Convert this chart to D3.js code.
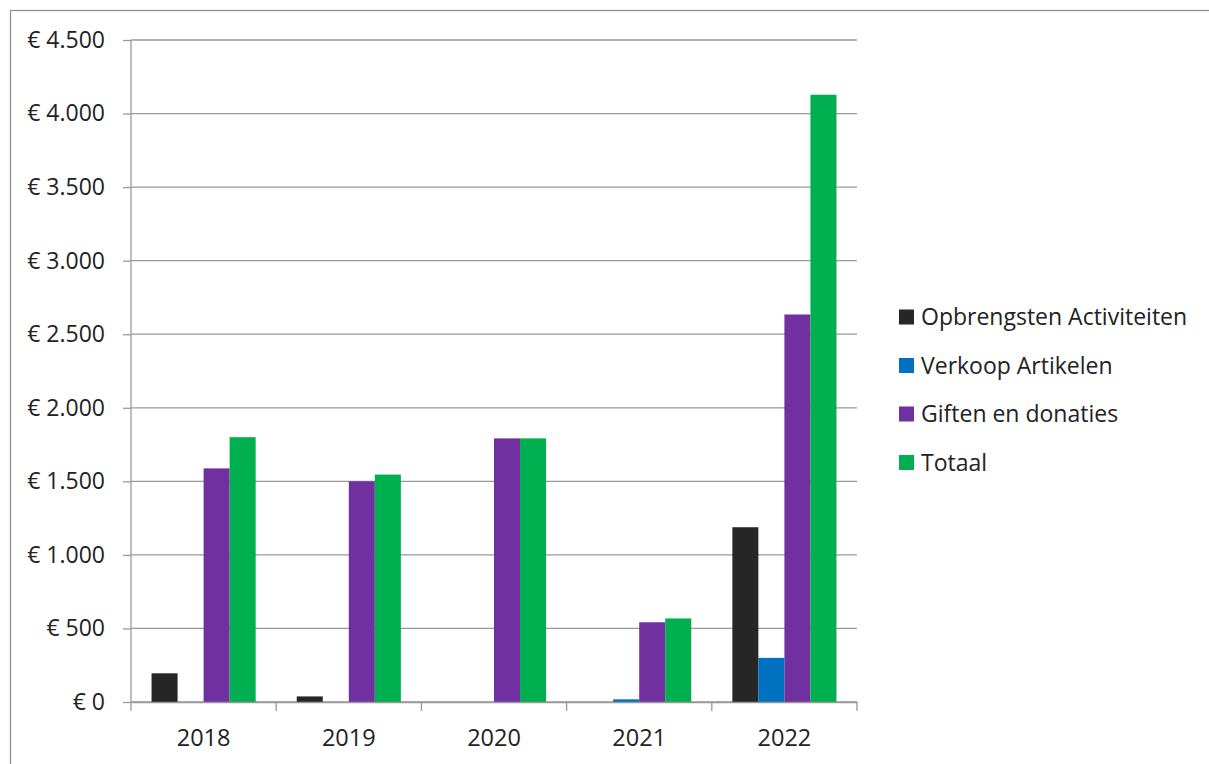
<!DOCTYPE html>
<html>
<head>
<meta charset="utf-8">
<script src="https://cdn.jsdelivr.net/npm/d3@7"></script>
<style>
  body { margin: 0; background: #fff; }
  text { font-family: 'Open Sans', sans-serif; fill: #222; }
</style>
</head>
<body>
<div id="grafiek"></div>
<script>
// Gegevens
const jaren = ['2018', '2019', '2020', '2021', '2022'];
const reeksen = ['Opbrengsten Activiteiten', 'Verkoop Artikelen', 'Giften en donaties', 'Totaal'];
const activiteiten = [195, 38, 0, 0, 1188];
const artikelen = [0, 0, 0, 18, 300];
const giften = [1588, 1500, 1792, 542, 2634];
const totaal = [1800, 1546, 1792, 568, 4128];
const yTicks = [0, 500, 1000, 1500, 2000, 2500, 3000, 3500, 4000, 4500];
const kleuren = ['#262626', '#0070c0', '#7030a0', '#00b050'];

const w = 1209;
const h = 764;
const links = 131, rechts = 857, boven = 40, onder = 702;

const waarden = [activiteiten, artikelen, giften, totaal];

const svg = d3.select('#grafiek')
  .append('svg')
  .attr('width', w)
  .attr('height', h);

// Kader
svg.append('rect')
  .attr('x', 10.5).attr('y', 10.5)
  .attr('width', w + 20).attr('height', h + 20)
  .attr('fill', 'none')
  .attr('stroke', '#8c8c8c')
  .attr('stroke-width', 1.2);

// Schalen
const x0 = d3.scaleBand().domain(jaren).range([links, rechts]);
const bw = x0.bandwidth();
const gat = bw * 0.283;
const x1 = d3.scaleBand().domain(reeksen).range([gat / 2, bw - gat / 2]);
const y = d3.scaleLinear().domain([0, 4500]).range([onder, boven]);

// Rasterlijnen + Y-as
const yAs = svg.append('g')
  .attr('transform', 'translate(' + links + ',0)')
  .call(d3.axisLeft(y)
    .tickValues(yTicks)
    .tickSize(8)
    .tickPadding(18)
    .tickFormat(d => '€ ' + d3.format(',')(d).replace(/,/g, '.')));
yAs.select('.domain').remove();
yAs.selectAll('line').attr('stroke', '#999').attr('stroke-width', 1.3);
yAs.selectAll('text').style('font-size', '23px').attr('fill', '#222');

svg.append('g')
  .selectAll('line')
  .data(yTicks)
  .enter()
  .append('line')
  .attr('x1', links).attr('x2', rechts)
  .attr('y1', d => y(d)).attr('y2', d => y(d))
  .attr('stroke', '#999')
  .attr('stroke-width', 1.3);

svg.append('line')
  .attr('x1', links).attr('x2', links)
  .attr('y1', boven).attr('y2', onder)
  .attr('stroke', '#999')
  .attr('stroke-width', 1.3);

// Staven
reeksen.forEach(function (r, i) {
  svg.append('g')
    .selectAll('rect')
    .data(jaren)
    .enter()
    .append('rect')
    .attr('x', d => x0(d) + x1(r))
    .attr('y', (d, j) => y(waarden[i][j]))
    .attr('width', x1.bandwidth())
    .attr('height', (d, j) => y(0) - y(waarden[i][j]))
    .attr('fill', kleuren[i]);
});

// X-as
const xAs = svg.append('g')
  .attr('transform', 'translate(0,' + onder + ')')
  .call(d3.axisBottom(x0).tickSize(0).tickPadding(27));
xAs.select('.domain').attr('stroke', '#999').attr('stroke-width', 1.3);
xAs.selectAll('text').style('font-size', '23.5px').attr('fill', '#222');

svg.append('g')
  .selectAll('line')
  .data(jaren.map(d => x0(d)).concat([rechts]))
  .enter()
  .append('line')
  .attr('x1', d => d).attr('x2', d => d)
  .attr('y1', onder).attr('y2', onder + 9)
  .attr('stroke', '#999')
  .attr('stroke-width', 1.3);

// Legenda
const legenda = svg.append('g')
  .selectAll('g')
  .data(reeksen)
  .enter()
  .append('g')
  .attr('transform', (d, i) => 'translate(899,' + (317 + i * 48.5) + ')');

legenda.append('rect')
  .attr('x', 0).attr('y', -7.5)
  .attr('width', 15).attr('height', 15)
  .attr('fill', (d, i) => kleuren[i]);

legenda.append('text')
  .attr('x', 22)
  .attr('dy', '0.35em')
  .style('font-size', '23px')
  .text(d => d);
</script>
</body>
</html>
